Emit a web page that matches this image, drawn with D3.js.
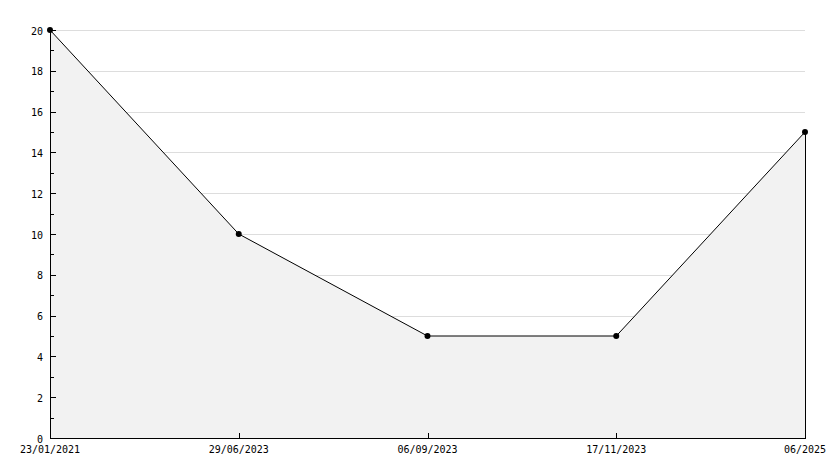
<!DOCTYPE html>
<html><head><meta charset="utf-8">
<script src="https://cdn.jsdelivr.net/npm/d3@7"></script>
<style>body{margin:0;background:#fff}svg{display:block}text{font-family:"DejaVu Sans Mono",monospace;font-size:10px;fill:#000}</style>
</head><body><svg id="c" width="834" height="468"></svg>
<script>
const categories = ["23/01/2021","29/06/2023","06/09/2023","17/11/2023","06/2025"];
const values = [20,10,5,5,15];
const yTicks = [0,2,4,6,8,10,12,14,16,18,20];
const yMinor = [1,3,5,7,9,11,13,15,17,19];

const svg = d3.select("#c");
const L = 50, R = 805, T = 30, B = 438;
const x = d3.scalePoint().domain(categories).range([L, R]);
const y = d3.scaleLinear().domain([0, 20]).range([B, T]);

// grid
svg.append("g").selectAll("line").data(yTicks.filter(d => d > 0)).join("line")
  .attr("x1", L).attr("x2", R).attr("y1", d => y(d) + 0.5).attr("y2", d => y(d) + 0.5)
  .attr("stroke", "#dddddd").attr("shape-rendering", "crispEdges");

// area
const area = d3.area().x((d, i) => x(categories[i])).y0(B).y1(d => y(d));
svg.append("path").datum(values).attr("d", area).attr("fill", "#f2f2f2");

// right edge line
svg.append("line").attr("x1", R + 0.5).attr("x2", R + 0.5).attr("y1", y(values[values.length - 1])).attr("y2", B)
  .attr("stroke", "#000").attr("shape-rendering", "crispEdges");

// line
const line = d3.line().x((d, i) => x(categories[i])).y(d => y(d));
svg.append("path").datum(values).attr("d", line).attr("fill", "none").attr("stroke", "#000").attr("stroke-width", 1);

// axes
const yAxis = svg.append("g");
yAxis.append("line").attr("x1", L + 0.5).attr("x2", L + 0.5).attr("y1", T).attr("y2", B + 1)
  .attr("stroke", "#000").attr("shape-rendering", "crispEdges");
yAxis.selectAll("line.maj").data(yTicks).join("line").attr("class", "maj")
  .attr("x1", L).attr("x2", L + 6).attr("y1", d => y(d) + 0.5).attr("y2", d => y(d) + 0.5)
  .attr("stroke", "#000").attr("shape-rendering", "crispEdges");
yAxis.selectAll("line.min").data(yMinor).join("line").attr("class", "min")
  .attr("x1", L).attr("x2", L + 4).attr("y1", d => y(d) + 0.5).attr("y2", d => y(d) + 0.5)
  .attr("stroke", "#000").attr("shape-rendering", "crispEdges");
yAxis.selectAll("text").data(yTicks).join("text")
  .attr("x", L - 7).attr("y", d => y(d) + 4.5).attr("text-anchor", "end")
  .text(d => d);

const xAxis = svg.append("g");
xAxis.append("line").attr("x1", L).attr("x2", R + 1).attr("y1", B + 0.5).attr("y2", B + 0.5)
  .attr("stroke", "#000").attr("shape-rendering", "crispEdges");
xAxis.selectAll("line.xt").data(categories.slice(1, -1)).join("line").attr("class", "xt")
  .attr("x1", d => x(d) + 0.5).attr("x2", d => x(d) + 0.5).attr("y1", B - 5).attr("y2", B)
  .attr("stroke", "#000").attr("shape-rendering", "crispEdges");
xAxis.selectAll("text").data(categories).join("text")
  .attr("x", d => x(d)).attr("y", B + 15).attr("text-anchor", "middle").text(d => d);

// markers
svg.append("g").selectAll("path").data(values).join("path")
  .attr("transform", (d, i) => `translate(${x(categories[i])},${y(d)})`)
  .attr("d", d3.symbol().type(d3.symbolCircle).size(28)).attr("fill", "#000");
</script></body></html>
